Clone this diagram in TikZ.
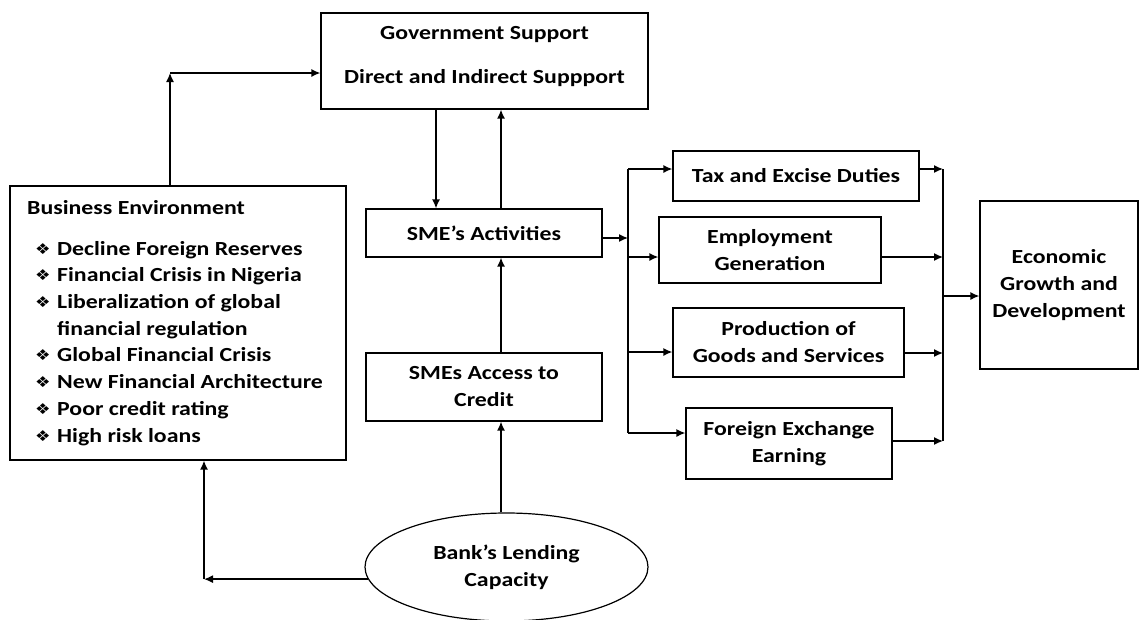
\documentclass[tikz,border=0pt]{standalone}
\usepackage{fontspec}
\setmainfont{Carlito}[FakeStretch=1.19]
\newfontfamily\dejavu{DejaVu Sans}[FakeStretch=1.15]
\usetikzlibrary{arrows.meta,shapes.geometric}
\newcommand\lbl{\bfseries\fontsize{20}{27}\selectfont}
\newcommand\bul{\makebox[22pt][l]{\raisebox{1pt}{\dejavu\fontsize{15}{15}\selectfont ❖}}}
\begin{document}
\begin{tikzpicture}[x=1pt,y=-1pt,
  box/.style={draw, line width=1.2pt, inner sep=0pt, align=center, font=\lbl},
  txt/.style={inner sep=0pt, font=\lbl},
  arr/.style={line width=1.4pt, -{Latex[length=9pt,width=8pt]}},
  ln/.style={line width=1.4pt}]
\useasboundingbox (0,0) rectangle (1147,619);
% boxes
\node[box, minimum width=327pt, minimum height=96pt] (gov) at (484.5,61) {};
\node[txt] (govA) at (484.5,35) {Government Support};
\node[txt] (govB) at (484.5,78) {Direct and Indirect Suppport};
\node[box, minimum width=336pt, minimum height=274pt] (be) at (178,323) {};
\node[txt, anchor=base west] (beT) at (27,214) {Business Environment};
\node[txt, anchor=base west, align=left, font=\lbl\fontsize{20}{26.7}\selectfont] (beL) at (35,442)
 {\bul Decline Foreign Reserves\\
  \bul Financial Crisis in Nigeria\\
  \bul Liberalization of global\\
  \hphantom{\bul}financial regulation\\
  \bul Global Financial Crisis\\
  \bul New Financial Architecture\\
  \bul Poor credit rating\\
  \bul High risk loans};
\node[box, minimum width=236pt, minimum height=48pt] (sme) at (484,233) {SME’s Activities};
\node[box, minimum width=236pt, minimum height=68pt] (acc) at (484,387) {SMEs Access to\\Credit};
\node[box, ellipse, minimum width=283pt, minimum height=108pt] (bank) at (506.5,567) {Bank’s Lending\\Capacity};
\node[box, minimum width=246pt, minimum height=50pt] (tax) at (796,176) {Tax and Excise Duties};
\node[box, minimum width=222pt, minimum height=66pt] (emp) at (770,250) {Employment\\Generation};
\node[box, minimum width=231pt, minimum height=69pt] (prod) at (788.5,342.5) {Production of\\Goods and Services};
\node[box, minimum width=206pt, minimum height=71pt] (fx) at (789,443.5) {Foreign Exchange\\Earning};
\node[box, minimum width=158pt, minimum height=168pt] (eco) at (1059,285) {Economic\\Growth and\\Development};
% connectors left part
\coordinate (g1) at (170,73);
\draw[arr] (be.north -| g1) -- (g1);
\draw[arr] (g1) -- (gov.west |- g1);
\coordinate (xd) at (436,0);
\coordinate (xu) at (501,0);
\draw[arr] (gov.south -| xd) -- (sme.north -| xd);
\draw[arr] (sme.north -| xu) -- (gov.south -| xu);
\draw[arr] (acc.north -| xu) -- (sme.south -| xu);
\draw[arr] (bank.north -| xu) -- (acc.south -| xu);
\coordinate (bx) at (204,0);
\coordinate (b1) at (bank.185 -| bx);
\draw[arr] (bank.185) -- (b1);
\draw[arr] (b1) -- (be.south -| b1);
% buses
\coordinate (L) at (628,0);
\coordinate (Lt) at (628,169);
\coordinate (Le) at (628,257);
\coordinate (Lp) at (628,352);
\coordinate (Lb) at (628,433);
\draw[ln] (Lt) -- (Lb);
\draw[arr] ([yshift=-5pt]sme.east) -- ([yshift=-5pt]sme.east -| L);
\draw[arr] (Lt) -- (tax.west |- Lt);
\draw[arr] (Le) -- (emp.west |- Le);
\draw[arr] (Lp) -- (prod.west |- Lp);
\draw[arr] (Lb) -- (fx.west |- Lb);
\coordinate (Rt) at (943,169);
\coordinate (Re) at (943,257);
\coordinate (Rm) at (943,296);
\coordinate (Rp) at (943,353);
\coordinate (Rb) at (943,441);
\draw[ln] (Rt) -- (Rb);
\draw[arr] (tax.east |- Rt) -- (Rt);
\draw[arr] (emp.east |- Re) -- (Re);
\draw[arr] (prod.east |- Rp) -- (Rp);
\draw[arr] (fx.east |- Rb) -- (Rb);
\draw[arr] (Rm) -- (eco.west |- Rm);
\end{tikzpicture}
\end{document}
